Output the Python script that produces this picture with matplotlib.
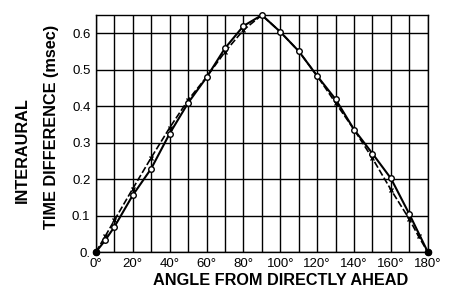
import numpy as np
import matplotlib
matplotlib.use('Agg')
import matplotlib.pyplot as plt

# interaural time difference vs. angle, two curves
angles_o = [0, 5, 10, 20, 30, 40, 50, 60, 70, 80, 90,
            100, 110, 120, 130, 140, 150, 160, 170, 180]
itd_o = [0, 0.032, 0.069, 0.156, 0.229, 0.325, 0.409, 0.479, 0.559, 0.62, 0.65,
         0.604, 0.551, 0.483, 0.419, 0.336, 0.27, 0.202, 0.104, 0]
angles_x = [0, 5, 10, 20, 30, 40, 50, 60, 70, 80, 90,
            100, 110, 120, 130, 140, 150, 160, 170, 175, 180]
itd_x = [0, 0.043, 0.087, 0.174, 0.259, 0.341, 0.417, 0.48, 0.549, 0.609, 0.65,
         0.604, 0.551, 0.483, 0.409, 0.336, 0.257, 0.171, 0.09, 0.043, 0]

xticks = [0, 20, 40, 60, 80, 100, 120, 140, 160, 180]
xlabels = ['0°', '20°', '40°', '60°', '80°', '100°', '120°', '140°', '160°', '180°']
yticks = [0, 0.1, 0.2, 0.3, 0.4, 0.5, 0.6]
ylabels = ['0.', '0.1', '0.2', '0.3', '0.4', '0.5', '0.6']

plt.rcParams['font.family'] = ['Liberation Sans', 'DejaVu Sans']

fig = plt.figure(figsize=(4.59, 2.90), dpi=100)
ax = fig.add_axes([0.209, 0.131, 0.723, 0.817])

ax.plot(angles_x, itd_x, color='black', lw=1.2, ls=(0, (4, 1.5)),
        marker='x', ms=3.5, mew=1, clip_on=False, zorder=3)
ax.plot(angles_o, itd_o, color='black', lw=1.5, marker='o', ms=4,
        mfc='white', mec='black', mew=1, clip_on=False, zorder=4)
ax.scatter([angles_o[0], angles_o[-1]], [itd_o[0], itd_o[-1]], s=20,
           color='black', clip_on=False, zorder=5)

ax.set_xlim(0, 180)
ax.set_ylim(0, 0.65)
ax.set_xticks(xticks)
ax.set_xticklabels(xlabels, fontsize=9.5)
ax.set_xticks(np.arange(0, 181, 10), minor=True)
ax.set_yticks(yticks)
ax.set_yticklabels(ylabels, fontsize=9.5)
ax.tick_params(which='both', length=0, pad=4)
ax.grid(True, which='both', color='black', lw=1)
ax.set_axisbelow(True)
for s in ax.spines.values():
    s.set_linewidth(1)

ax.set_xlabel('ANGLE FROM DIRECTLY AHEAD', fontsize=11.7, fontweight='bold')
ax.xaxis.set_label_coords(0.557, -0.09, transform=ax.transAxes)
ax.xaxis.label.set_va('top')

fig.text(22/459, 1-150/290, 'INTERAURAL', rotation=90, fontsize=11.7,
         fontweight='bold', ha='center', va='center')
fig.text(52/459, 1-127/290, 'TIME DIFFERENCE (msec)', rotation=90,
         fontsize=11.7, fontweight='bold', ha='center', va='center')

fig.savefig('out.png', dpi=100)
